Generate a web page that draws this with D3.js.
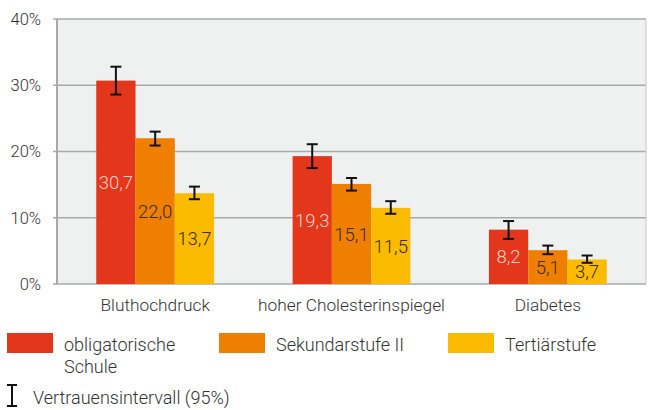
<!DOCTYPE html>
<html>
<head>
<meta charset="utf-8">
<script src="https://cdn.jsdelivr.net/npm/d3@7"></script>
<style>
  body { margin: 0; background: #fff; }
  svg text { font-family: Roboto, "Noto Sans", sans-serif; font-weight: 300; fill: #333; }
</style>
</head>
<body>
<div id="chart"></div>
<script>
// data
var categories = ["Bluthochdruck", "hoher Cholesterinspiegel", "Diabetes"];
var series = ["obligatorische Schule", "Sekundarstufe II", "Tertiärstufe"];
var colors = ["#e3361b", "#ef7f00", "#fbbb00"];
var values = [
  [30.7, 22.0, 13.7],
  [19.3, 15.1, 11.5],
  [8.2, 5.1, 3.7]
];
var ciLow = [
  [28.6, 20.9, 12.8],
  [17.5, 14.1, 10.6],
  [6.8, 4.5, 3.2]
];
var ciHigh = [
  [32.8, 23.0, 14.7],
  [21.1, 16.0, 12.5],
  [9.5, 5.8, 4.3]
];
var yTicks = [0, 10, 20, 30, 40];

//
// setup
//
var W = 649, H = 410;
var margin = {top: 19, right: 3, bottom: 126, left: 57},
    width = W - margin.left - margin.right,
    height = H - margin.top - margin.bottom;

var svg = d3.select("#chart").append("svg")
    .attr("width", W)
    .attr("height", H);

var g = svg.append("g")
    .attr("transform", "translate(" + margin.left + "," + margin.top + ")");

var x0 = d3.scaleBand()
    .domain(categories)
    .range([0, width])
    .paddingInner(0.4)
    .paddingOuter(0.2);

var x1 = d3.scaleBand()
    .domain(series)
    .range([0, x0.bandwidth()]);

var y = d3.scaleLinear()
    .domain([0, 40])
    .range([height, 0]);

// plot background
g.append("rect")
  .attr("width", width)
  .attr("height", height)
  .attr("fill", "#eff0f0");

// grid lines
g.selectAll("line.grid")
  .data(yTicks)
  .enter().append("line")
  .attr("class", "grid")
  .attr("x1", -4)
  .attr("x2", width)
  .attr("y1", function(d){ return y(d); })
  .attr("y2", function(d){ return y(d); })
  .attr("stroke", "#a9a9a9")
  .attr("stroke-width", 1.5);

// left / right border
g.append("line")
  .attr("y1", 0).attr("y2", height)
  .attr("stroke", "#a9a9a9").attr("stroke-width", 2);
g.append("line")
  .attr("x1", width).attr("x2", width)
  .attr("y1", 0).attr("y2", height)
  .attr("stroke", "#c8c8c8").attr("stroke-width", 1);

// y labels
g.selectAll("text.ylab")
  .data(yTicks)
  .enter().append("text")
  .attr("class", "ylab")
  .attr("x", -16)
  .attr("y", function(d){ return y(d); })
  .attr("dy", "0.36em")
  .attr("text-anchor", "end")
  .style("font-size", "16.5px")
  .text(function(d){ return d + "%"; });

// x labels
g.selectAll("text.xlab")
  .data(categories)
  .enter().append("text")
  .attr("class", "xlab")
  .attr("x", function(d){ return x0(d) + x0.bandwidth() / 2; })
  .attr("y", height + 27)
  .attr("text-anchor", "middle")
  .style("font-size", "17.3px")
  .text(function(d){ return d; });

//
// bars
//
var groups = g.selectAll("g.group")
  .data(categories)
  .enter().append("g")
  .attr("class", "group")
  .attr("transform", function(d){ return "translate(" + x0(d) + ",0)"; });

groups.each(function(cat, ci){
  var grp = d3.select(this);
  series.forEach(function(s, si){
    var v = values[ci][si];
    var bx = x1(s), bw = x1.bandwidth();
    grp.append("rect")
      .attr("x", bx)
      .attr("y", y(v))
      .attr("width", bw)
      .attr("height", height - y(v))
      .attr("fill", colors[si]);

    // value label
    grp.append("text")
      .attr("x", bx + bw / 2)
      .attr("y", (y(v) + height) / 2)
      .attr("dy", "0.36em")
      .attr("text-anchor", "middle")
      .style("font-size", "18.5px")
      .style("fill", si === 0 ? "#fcd2c8" : "#3a2c14")
      .text(d3.format(".1f")(v).replace(".", ","));

    // error bar
    var cx = bx + bw / 2, cw = 5.5;
    var eb = grp.append("g")
      .attr("stroke", "#111")
      .attr("stroke-width", 2);
    eb.append("line")
      .attr("x1", cx).attr("x2", cx)
      .attr("y1", y(ciLow[ci][si])).attr("y2", y(ciHigh[ci][si]));
    eb.append("line")
      .attr("x1", cx - cw).attr("x2", cx + cw)
      .attr("y1", y(ciLow[ci][si])).attr("y2", y(ciLow[ci][si]));
    eb.append("line")
      .attr("x1", cx - cw).attr("x2", cx + cw)
      .attr("y1", y(ciHigh[ci][si])).attr("y2", y(ciHigh[ci][si]));
  });
});

//
// legend
//
var legendX = [7, 219, 448];
var leg = svg.selectAll("g.legend")
  .data(series)
  .enter().append("g")
  .attr("class", "legend")
  .attr("transform", function(d, i){ return "translate(" + legendX[i] + ",333)"; });

leg.append("rect")
  .attr("width", 46)
  .attr("height", 20)
  .attr("fill", function(d, i){ return colors[i]; });

leg.append("text")
  .attr("x", 57)
  .attr("y", 18)
  .style("font-size", "18px")
  .each(function(d){
    var t = d3.select(this);
    var lines = d === "obligatorische Schule" ? ["obligatorische", "Schule"] : [d];
    lines.forEach(function(l, i){
      t.append("tspan")
        .attr("x", 57)
        .attr("dy", i === 0 ? 0 : 22)
        .text(l);
    });
  });

// confidence interval legend
var ci = svg.append("g")
  .attr("stroke", "#111")
  .attr("stroke-width", 2);
ci.append("line").attr("x1", 12).attr("x2", 12).attr("y1", 385).attr("y2", 406);
ci.append("line").attr("x1", 7).attr("x2", 17).attr("y1", 385).attr("y2", 385);
ci.append("line").attr("x1", 7).attr("x2", 17).attr("y1", 406).attr("y2", 406);

svg.append("text")
  .attr("x", 33)
  .attr("y", 404)
  .style("font-size", "18px")
  .text("Vertrauensintervall (95%)");
</script>
</body>
</html>
